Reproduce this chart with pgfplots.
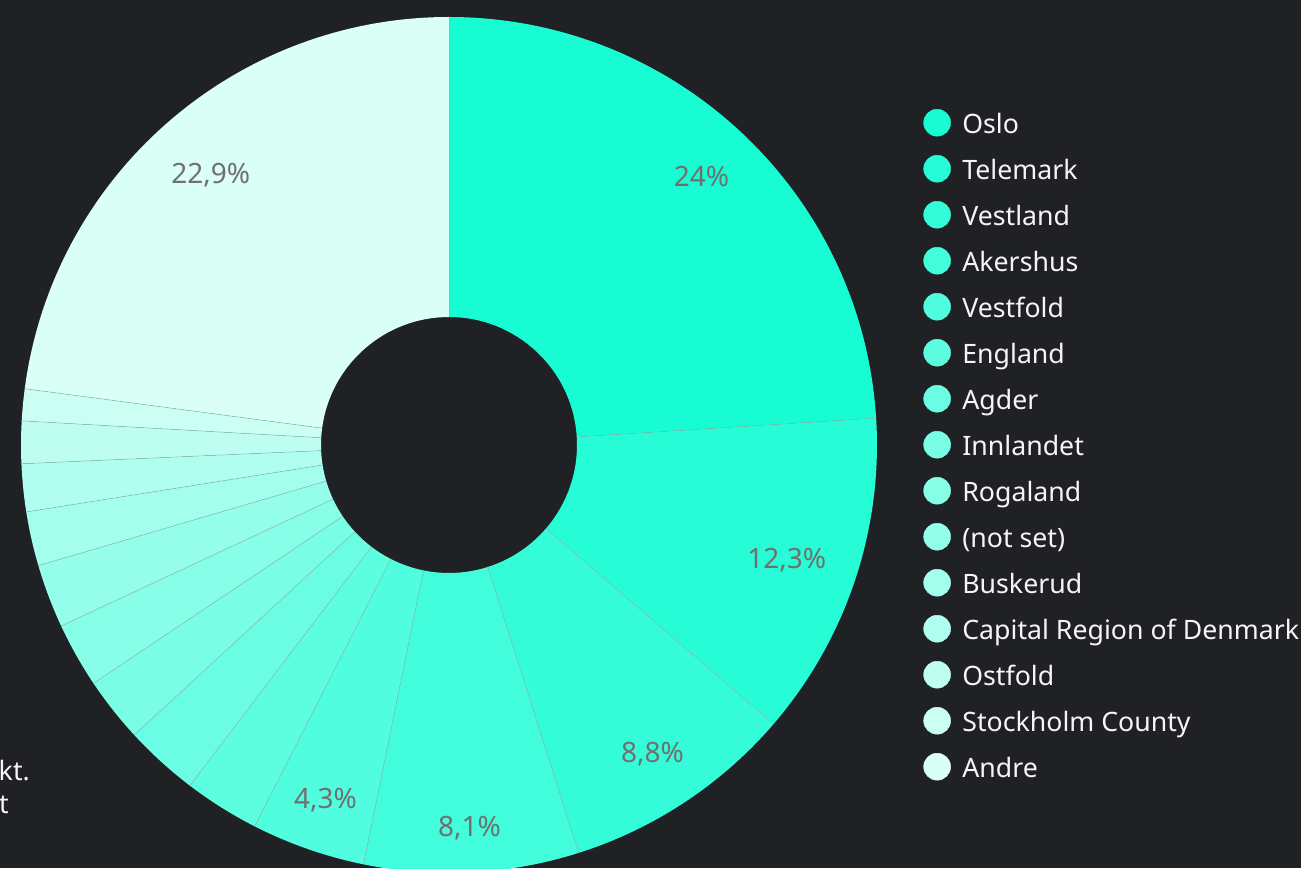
\documentclass[border=0pt]{standalone}
\usepackage{pgfplots}
\usepackage{pgfplotstable}
\pgfplotsset{compat=1.18}
\usepackage{fontspec}
\setmainfont{Noto Sans}
\definecolor{bg}{HTML}{202124}
\definecolor{lblgray}{HTML}{707070}
\definecolor{sepc}{HTML}{86BFB4}
\definecolor{cstart}{RGB}{24,252,212}
\definecolor{cend}{RGB}{218,255,246}

\pgfplotstableread{
name value
Oslo 24.0
Telemark 12.3
Vestland 8.8
Akershus 8.1
Vestfold 4.3
England 2.85
Agder 2.8
Innlandet 2.45
Rogaland 2.45
{(not set)} 2.4
Buskerud 2.05
{Capital Region of Denmark} 1.8
Ostfold 1.6
{Stockholm County} 1.2
Andre 22.9
}\slices

\newcommand\lblfont{\fontsize{28}{34}\selectfont}
\newcommand\legfont{\fontsize{26.7}{32}\selectfont}
\pgfkeys{/pgf/number format/.cd, use comma, fixed, precision=1, assume math mode=true}
\pgfplotstablegetrowsof{\slices}
\pgfmathtruncatemacro\nlast{\pgfplotsretval-1}
\gdef\cum{0}
\pgfplotsforeachungrouped \i in {0,...,\nlast}{%
  \pgfplotstablegetelem{\i}{value}\of\slices
  \let\v\pgfplotsretval
  \pgfmathsetmacro\aA{90-3.6*\cum}%
  \pgfmathsetmacro\cumnew{\cum+\v}%
  \pgfmathsetmacro\aB{90-3.6*\cumnew}%
  \pgfmathsetmacro\aM{(\aA+\aB)/2}%
  \expandafter\xdef\csname sa\i\endcsname{\aA}%
  \expandafter\xdef\csname sb\i\endcsname{\aB}%
  \expandafter\xdef\csname sm\i\endcsname{\aM}%
  \ifdim\v pt>4pt
    \expandafter\xdef\csname lab\i\endcsname{\noexpand\pgfmathprintnumber{\v}\noexpand\%}%
    \sbox0{\lblfont\pgfmathprintnumber{\v}\%}%
    \pgfmathsetmacro\lw{\wd0}%
    \pgfmathsetmacro\rl{398-0.5*\lw*abs(cos(\aM))-14*abs(sin(\aM))}%
  \else
    \expandafter\xdef\csname lab\i\endcsname{}%
    \def\rl{370}%
  \fi
  \expandafter\xdef\csname rl\i\endcsname{\rl}%
  \pgfplotstablegetelem{\i}{name}\of\slices
  \expandafter\xdef\csname nm\i\endcsname{\pgfplotsretval}%
  \pgfmathsetmacro\mix{100*\i/\nlast}%
  \colorlet{c\i}{cend!\mix!cstart}%
  \xdef\cum{\cumnew}%
}

\begin{document}
\begin{tikzpicture}
\fill[bg] (0,0) rectangle (1301pt,868pt);
\begin{axis}[
  at={(0,0)}, anchor=south west,
  x=1pt, y=1pt,
  xmin=-449, xmax=852, ymin=-423, ymax=445,
  hide axis, clip=true,
  legend cell align=left,
  legend style={
    at={(axis description cs:0.7098,0.8744)}, anchor=north west,
    draw=none, fill=none, text=white!96!black,
    font=\legfont,
    inner sep=0pt, outer sep=0pt, row sep=14.8pt,
    nodes={inner sep=0pt, text height=24pt, text depth=7pt},
    /tikz/every odd column/.style={column sep=11.5pt},
  },
]
\pgfplotsinvokeforeach{0,...,14}{
  \fill[c#1] (axis cs:{428*cos(\csname sa#1\endcsname)},{428*sin(\csname sa#1\endcsname)})
     arc[start angle=\csname sa#1\endcsname, end angle=\csname sb#1\endcsname, radius=428pt]
     -- (axis cs:{128*cos(\csname sb#1\endcsname)},{128*sin(\csname sb#1\endcsname)})
     arc[start angle=\csname sb#1\endcsname, end angle=\csname sa#1\endcsname, radius=128pt]
     -- cycle;
}
\pgfplotsinvokeforeach{0,...,14}{
  \draw[sepc, line width=0.5pt]
     (axis cs:{128*cos(\csname sa#1\endcsname)},{128*sin(\csname sa#1\endcsname)})
     -- (axis cs:{428*cos(\csname sa#1\endcsname)},{428*sin(\csname sa#1\endcsname)});
}
\pgfplotsinvokeforeach{0,...,14}{
  \node[text=lblgray, font=\lblfont, inner sep=0pt, text height=20pt, text depth=0pt]
     at (axis cs:{\csname rl#1\endcsname*cos(\csname sm#1\endcsname)},{\csname rl#1\endcsname*sin(\csname sm#1\endcsname)})
     {\csname lab#1\endcsname};
}
\pgfplotsinvokeforeach{0,...,14}{
  \addlegendimage{legend image code/.code={\fill[c#1] (0pt,2pt) circle[radius=13.5pt];}}
  \addlegendentry{\csname nm#1\endcsname}
}
\end{axis}
\node[anchor=base east, text=white!96!black, font=\legfont, inner sep=0pt] at (30pt,88pt) {kt.};
\node[anchor=base east, text=white!96!black, font=\legfont, inner sep=0pt] at (9pt,55pt) {t};
\pgfresetboundingbox
\useasboundingbox (0,0) rectangle (1301pt,868pt);
\end{tikzpicture}
\end{document}
